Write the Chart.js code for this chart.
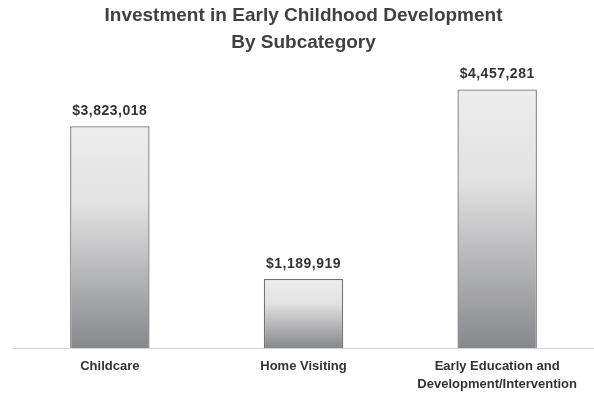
<!DOCTYPE html>
<html>
<head>
<meta charset="utf-8">
<title>Investment in Early Childhood Development</title>
<script src="https://cdn.jsdelivr.net/npm/chart.js@4/dist/chart.umd.min.js"></script>
<style>
  html, body { margin: 0; padding: 0; background: #fff; }
  #wrap { width: 594px; height: 396px; }
</style>
</head>
<body>
<div id="wrap"><canvas id="chart" width="594" height="396"></canvas></div>
<script>
const categories = ['Childcare', 'Home Visiting', ['Early Education and', 'Development/Intervention']];
const amounts = [3823018, 1189919, 4457281];
const yMax = 5000000;

const FONT = '"Liberation Sans", Arial, sans-serif';

function money(v) {
  return '$' + v.toLocaleString('en-US');
}

// light-to-dark fill, one gradient per bar from its top down to the baseline
function barFill(context) {
  const chart = context.chart;
  const yScale = chart.scales.y;
  if (!chart.chartArea || !yScale) return '#bbbbbb';
  const top = yScale.getPixelForValue(context.raw);
  const bottom = yScale.getPixelForValue(0);
  const g = chart.ctx.createLinearGradient(0, top, 0, bottom);
  g.addColorStop(0, '#ededed');
  g.addColorStop(0.35, '#e2e2e3');
  g.addColorStop(1, '#87888b');
  return g;
}

const valueLabels = {
  id: 'valueLabels',
  afterDatasetsDraw(chart) {
    const ctx = chart.ctx;
    const meta = chart.getDatasetMeta(0);
    ctx.save();
    ctx.font = 'bold 14px ' + FONT;
    ctx.letterSpacing = '0.5px';
    ctx.fillStyle = '#333333';
    ctx.textAlign = 'center';
    ctx.textBaseline = 'alphabetic';
    meta.data.forEach((bar, i) => {
      ctx.fillText(money(amounts[i]), bar.x, bar.y - 11);
    });
    ctx.restore();
  }
};

new Chart(document.getElementById('chart'), {
  type: 'bar',
  data: {
    labels: categories,
    datasets: [{
      data: amounts,
      backgroundColor: barFill,
      borderColor: '#727274',
      borderWidth: 1.3,
      barPercentage: 0.41,
      categoryPercentage: 1
    }]
  },
  options: {
    responsive: false,
    animation: false,
    layout: { padding: { left: 13, right: 0, top: 0, bottom: 4 } },
    plugins: {
      legend: { display: false },
      tooltip: { enabled: false },
      title: {
        display: true,
        text: ['Investment in Early Childhood Development', 'By Subcategory'],
        color: '#404040',
        font: { family: FONT, size: 19, weight: 'bold', lineHeight: 1.42 },
        padding: { top: 2, bottom: 2 }
      }
    },
    scales: {
      x: {
        grid: { display: false, drawTicks: false },
        border: { display: true, color: '#d4d4d4', width: 1 },
        ticks: {
          color: '#333333',
          font: { family: FONT, size: 13, weight: 'bold', lineHeight: 1.4 },
          padding: 9,
          maxRotation: 0,
          autoSkip: false
        },
        afterFit(scale) {
          scale.height = 44;
        }
      },
      y: {
        display: false,
        min: 0,
        max: yMax
      }
    }
  },
  plugins: [valueLabels]
});
</script>
</body>
</html>
